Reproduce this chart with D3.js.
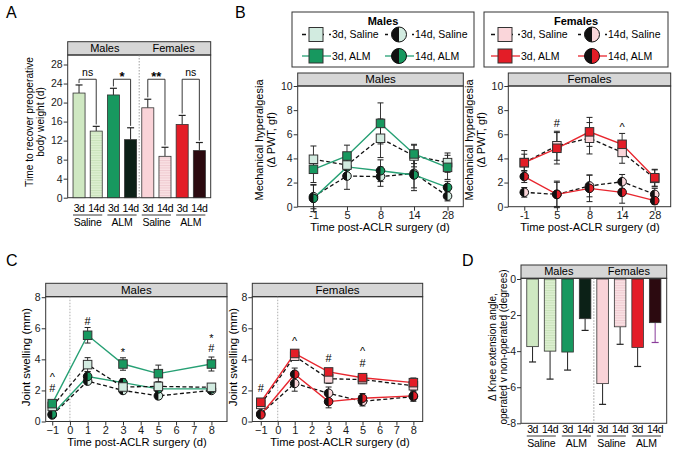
<!DOCTYPE html>
<html><head><meta charset="utf-8">
<script src="https://cdn.jsdelivr.net/npm/d3@7"></script>
<style>body{margin:0;background:#fff}svg{font-family:"Liberation Sans",Arial,sans-serif}</style>
</head><body><svg id="c" width="676" height="458"></svg>
<script>
// ---------- DATA ----------
const barDays = ["3d","14d","3d","14d","3d","14d","3d","14d"];
const barTreatments = ["Saline","ALM","Saline","ALM"];
const sexes = ["Males","Females"];
const recoveryDays = [22.0,14.0,21.6,12.2,18.9,8.7,15.4,9.9];
const recoveryErr = [1.7,1.0,1.4,2.5,1.8,1.9,1.9,1.7];
const recoverySig = ["ns","*","**","ns"];
const recoveryTicks = [0,4,8,12,16,20,24,28];

const seriesNames = ["3d, Saline","14d, Saline","3d, ALM","14d, ALM"];
const pwtDays = ["-1","5","8","14","28"];
const pwtTicks = [0,2,4,6,8,10];
const pwtMale3dSal = [3.93,3.45,5.67,4.2,3.65];
const pwtMale3dSalErr = [1.1,1.0,1.6,0.9,0.8];
const pwtMale3dAlm = [3.1,4.2,6.9,4.37,3.26];
const pwtMale3dAlmErr = [1.1,0.9,1.7,0.8,1.0];
const pwtMale14dSal = [0.83,2.54,2.49,2.76,0.88];
const pwtMale14dSalErr = [1.0,1.1,0.8,1.2,0.4];
const pwtMale14dAlm = [0.69,3.3,2.98,2.63,1.6];
const pwtMale14dAlmErr = [1.1,1.0,0.9,1.3,0.5];
const pwtFem3dSal = [3.65,5.05,5.67,4.5,2.35];
const pwtFem3dSalErr = [1.0,1.2,1.3,0.9,0.7];
const pwtFem3dAlm = [3.65,4.84,6.2,5.17,2.4];
const pwtFem3dAlmErr = [0.7,1.3,1.2,0.9,0.7];
const pwtFem14dSal = [1.19,1.02,1.72,2.07,1.02];
const pwtFem14dSalErr = [0.4,1.0,0.9,0.6,0.5];
const pwtFem14dAlm = [2.5,1.02,1.52,1.19,0.5];
const pwtFem14dAlmErr = [0.5,1.1,1.1,0.9,0.3];
const pwtFemMarks = [{day:"5",text:"#",v:6.9},{day:"14",text:"^",v:6.6}];

const swellDays = [-1,1,3,5,8];
const swellXTicks = [-1,0,1,2,3,4,5,6,7,8];
const swellYTicks = [0,2,4,6,8];
const swMale3dSal = [0.97,3.66,2.22,2.26,2.2];
const swMale3dSalErr = [0.2,0.45,0.3,0.3,0.2];
const swMale3dAlm = [1.15,5.55,3.7,3.08,3.7];
const swMale3dAlmErr = [0.2,0.5,0.4,0.55,0.45];
const swMale14dSal = [0.42,2.6,2.0,1.65,2.0];
const swMale14dSalErr = [0.1,0.2,0.2,0.2,0.1];
const swMale14dAlm = [0.47,2.9,2.5,2.1,2.1];
const swMale14dAlmErr = [0.1,0.3,0.25,0.2,0.15];
const swFem3dSal = [1.1,4.2,2.75,2.7,2.3];
const swFem3dSalErr = [0.2,0.2,0.3,0.25,0.3];
const swFem3dAlm = [1.24,4.38,3.19,2.82,2.5];
const swFem3dAlmErr = [0.2,0.2,0.2,0.2,0.3];
const swFem14dSal = [0.5,2.45,1.82,1.3,1.6];
const swFem14dSalErr = [0.15,0.5,0.4,0.3,0.3];
const swFem14dAlm = [0.43,3.04,1.28,1.5,1.65];
const swFem14dAlmErr = [0.15,0.4,0.4,0.3,0.25];
const swMaleMarks = [{d:-1,t:"^",v:2.85},{d:-1,t:"#",v:2.15},{d:1,t:"#",v:6.5},{d:3,t:"*",v:4.5},{d:8,t:"*",v:5.4},{d:8,t:"#",v:4.7}];
const swFemMarks = [{d:-1,t:"#",v:2.15},{d:1,t:"^",v:5.15},{d:3,t:"#",v:4.1},{d:5,t:"^",v:4.55},{d:5,t:"#",v:3.75}];

const kneeAngle = [-3.75,-4.0,-4.05,-2.2,-5.8,-2.65,-3.8,-2.42];
const kneeErr = [0.85,1.55,1.0,0.65,1.15,0.97,1.05,1.1];
const kneeTicks = [0,-2,-4,-6,-8];

// ---------- STYLE ----------
const C = {
  mLight:"#cfe8c2", mAlm:"#17985f", mDark:"#0c2117",
  fLight:"#fad3d8", fAlm:"#e31d27", fDark:"#2c0a10",
  mMark:"#d2ebe0", fMark:"#fad6da", mLine:"#26a074", fLine:"#e8262e"
};
const barFill = ["mLight","url(#hatchM)","mAlm","mDark","fLight","url(#hatchF)","fAlm","fDark"].map(k=>C[k]||k);
const FONT = 10.5;
const svg = d3.select("#c");
const defs = svg.append("defs");
function hatch(id, bg, line){
  const p = defs.append("pattern").attr("id",id).attr("patternUnits","userSpaceOnUse").attr("width",4).attr("height",2.5);
  p.append("rect").attr("width",4).attr("height",2.5).attr("fill",bg);
  p.append("line").attr("x1",0).attr("x2",4).attr("y1",0.5).attr("y2",0.5).attr("stroke",line).attr("stroke-width",0.6);
}
hatch("hatchM", "#dcefd0", "#b9d9a8");
hatch("hatchF", "#f9e0e3", "#e7bcc2");

function letter(t,x,y){ svg.append("text").attr("x",x).attr("y",y).attr("font-size",16).text(t); }

function frame(x0,x1,yTop,yHdr,yBot,title){
  svg.append("rect").attr("x",x0).attr("y",yTop).attr("width",x1-x0).attr("height",yHdr-yTop).attr("fill","#d6d6d6").attr("stroke","#333").attr("stroke-width",1);
  svg.append("rect").attr("x",x0).attr("y",yHdr).attr("width",x1-x0).attr("height",yBot-yHdr).attr("fill","none").attr("stroke","#333").attr("stroke-width",1);
  if(Array.isArray(title)){
    title.forEach(t=>svg.append("text").attr("x",t.x).attr("y",yHdr-3).attr("text-anchor","middle").attr("font-size",11).text(t.t));
  } else {
    svg.append("text").attr("x",(x0+x1)/2).attr("y",yHdr-3).attr("text-anchor","middle").attr("font-size",11.5).text(title);
  }
}
function yAxis(x0,y,ticks,fmt){
  const g = svg.append("g").attr("transform",`translate(${x0},0)`).call(d3.axisLeft(y).tickValues(ticks).tickSize(4).tickPadding(1).tickFormat(fmt||(d=>d)));
  g.select(".domain").remove();
  g.selectAll("text").attr("font-size",FONT).attr("fill","#1a1a1a").attr("font-family",null);
  g.selectAll("line").attr("stroke","#333");
  return g;
}
function xAxis(yB,x,ticks){
  const a = d3.axisBottom(x).tickSize(4).tickPadding(1);
  if(ticks) a.tickValues(ticks);
  const g = svg.append("g").attr("transform",`translate(0,${yB})`).call(a);
  g.select(".domain").remove();
  g.selectAll("text").attr("font-size",FONT+0.5).attr("fill","#1a1a1a").attr("font-family",null);
  g.selectAll("line").attr("stroke","#333");
  return g;
}
function yLabel(lines,x,y,size){
  const t = svg.append("text").attr("transform",`translate(${x},${y}) rotate(-90)`).attr("text-anchor","middle").attr("font-size",size||10.5);
  lines.forEach((l,i)=>t.append("tspan").attr("x",0).attr("dy",i?"1.1em":0).text(l));
}
function halfCircle(g,cx,cy,r,fill){
  g.append("circle").attr("cx",cx).attr("cy",cy).attr("r",r).attr("fill",fill).attr("stroke","#111").attr("stroke-width",1);
  g.append("path").attr("d",`M${cx},${cy-r}A${r},${r} 0 0 0 ${cx},${cy+r}Z`).attr("fill","#111");
}
function square(g,cx,cy,s,fill){
  g.append("rect").attr("x",cx-s/2).attr("y",cy-s/2).attr("width",s).attr("height",s).attr("fill",fill).attr("stroke","#333").attr("stroke-width",1);
}

// ---------- PANEL A / D bar helper ----------
function barPanel(opts){
  const {x0,x1,yTop,yHdr,yBot,y,vals,errs,down,ticks,labelY} = opts;
  const x = d3.scaleBand().domain(d3.range(vals.length)).range([x0,x1]).paddingInner(opts.pi).paddingOuter(opts.po);
  frame(x0,x1,yTop,yHdr,yBot,[{t:sexes[0],x:(x(0)+x(3)+x.bandwidth())/2},{t:sexes[1],x:(x(4)+x(7)+x.bandwidth())/2}]);
  const dx = (x(3)+x.bandwidth()+x(4))/2;
  svg.append("line").attr("x1",dx).attr("x2",dx).attr("y1",yHdr).attr("y2",yBot).attr("stroke","#888").attr("stroke-width",0.8).attr("stroke-dasharray","1.5,1.5");
  const g = svg.append("g");
  vals.forEach((v,i)=>{
    const cx = x(i)+x.bandwidth()/2;
    const eEnd = down ? v-errs[i] : v+errs[i];
    const col = (i===7 && down) ? "#8a3c9a" : "#222";
    g.append("line").attr("x1",cx).attr("x2",cx).attr("y1",y(v)).attr("y2",y(eEnd)).attr("stroke",col).attr("stroke-width",1);
    g.append("line").attr("x1",cx-3.5).attr("x2",cx+3.5).attr("y1",y(eEnd)).attr("y2",y(eEnd)).attr("stroke",col).attr("stroke-width",1.2);
    g.append("rect").attr("x",x(i)).attr("width",x.bandwidth())
      .attr("y",Math.min(y(v),y(0))).attr("height",Math.abs(y(v)-y(0)))
      .attr("fill",barFill[i]).attr("stroke","#333").attr("stroke-width",0.8);
  });
  yAxis(x0,y,ticks);
  vals.forEach((v,i)=>{
    svg.append("text").attr("x",x(i)+x.bandwidth()/2).attr("y",labelY).attr("text-anchor","middle").attr("font-size",10.5).attr("letter-spacing",-0.45).text(barDays[i]);
  });
  barTreatments.forEach((t,j)=>{
    const a = x(2*j), b = x(2*j+1)+x.bandwidth();
    svg.append("line").attr("x1",a).attr("x2",b).attr("y1",labelY+3).attr("y2",labelY+3).attr("stroke","#222").attr("stroke-width",0.9);
    svg.append("text").attr("x",(a+b)/2).attr("y",labelY+13.5).attr("text-anchor","middle").attr("font-size",10.5).attr("letter-spacing",-0.2).text(t);
  });
  return x;
}

// Panel A
letter("A",6,18);
const yA = d3.scaleLinear().domain([0,30]).range([197.7,55]);
const xA = barPanel({x0:67.7,x1:210.7,yTop:41.7,yHdr:55,yBot:197.7,y:yA,vals:recoveryDays,errs:recoveryErr,down:false,ticks:recoveryTicks,pi:0.3,po:0.31,labelY:212});
recoverySig.forEach((s,j)=>{
  const i1=2*j,i2=2*j+1;
  const c1 = xA(i1)+xA.bandwidth()/2, c2 = xA(i2)+xA.bandwidth()/2;
  const top = yA(24.9);
  const l1 = yA(recoveryDays[i1]+recoveryErr[i1]+0.4), l2 = yA(recoveryDays[i2]+recoveryErr[i2]+0.4);
  svg.append("path").attr("d",`M${c1},${l1}V${top}H${c2}V${l2}`).attr("fill","none").attr("stroke","#222").attr("stroke-width",0.9);
  svg.append("text").attr("x",(c1+c2)/2).attr("y",s==="ns"?top-3.5:top+1.5).attr("text-anchor","middle").attr("font-size",s==="ns"?10.5:13).attr("font-weight",s==="ns"?null:"bold").text(s);
});
yLabel(["Time to recover preoperative","body weight  (d)"],33,122,10.2);

// Panel D
letter("D",462,266);
const yD = d3.scaleLinear().domain([-8,0]).range([423.3,279]);
barPanel({x0:521,x1:666.7,yTop:265,yHdr:278.3,yBot:423.3,y:yD,vals:kneeAngle,errs:kneeErr,down:true,ticks:kneeTicks,pi:0.34,po:0.33,labelY:433});
yLabel(["Δ Knee extension angle,","operated v non-operated (degrees)"],496,347,10);

// ---------- line panel helper ----------
function linePanel(opts){
  const {x,y,days,series,marks,markKey} = opts;
  const g = svg.append("g");
  series.forEach(s=>{
    const line = d3.line().x((d,i)=>x(days[i])).y(d=>y(d));
    g.append("path").attr("d",line(s.v)).attr("fill","none").attr("stroke",s.dash?"#111":s.line).attr("stroke-width",s.dash?1.3:1.4).attr("stroke-dasharray",s.dash?"4,2.5":null);
  });
  series.forEach(s=>{
    s.v.forEach((v,i)=>{
      const cx = x(days[i]);
      g.append("line").attr("x1",cx).attr("x2",cx).attr("y1",y(v-s.e[i])).attr("y2",y(v+s.e[i])).attr("stroke","#222").attr("stroke-width",0.9);
      [v-s.e[i],v+s.e[i]].forEach(e=>g.append("line").attr("x1",cx-3).attr("x2",cx+3).attr("y1",y(e)).attr("y2",y(e)).attr("stroke","#222").attr("stroke-width",1));
    });
  });
  series.forEach(s=>{
    s.v.forEach((v,i)=>{
      const cx = x(days[i]), cy=y(v);
      if(s.shape==="sq") square(g,cx,cy,8.5,s.fill); else halfCircle(g,cx,cy,4.3,s.fill);
    });
  });
  (marks||[]).forEach(m=>{
    svg.append("text").attr("x",x(m[markKey.d])).attr("y",y(m[markKey.v])+4).attr("text-anchor","middle").attr("font-size",11).text(m[markKey.t]);
  });
}
function seriesSet(sal3,sal3e,alm3,alm3e,sal14,sal14e,alm14,alm14e,light,alm,lineC){
  return [
    {v:sal14,e:sal14e,dash:true,shape:"c",fill:light},
    {v:alm14,e:alm14e,dash:false,line:lineC,shape:"c",fill:alm},
    {v:sal3,e:sal3e,dash:true,shape:"sq",fill:light},
    {v:alm3,e:alm3e,dash:false,line:lineC,shape:"sq",fill:alm}
  ];
}

// ---------- PANEL B ----------
letter("B",235,18);
function legend(x0,x1,title,light,alm,lineC,sqX,cX){
  svg.append("rect").attr("x",x0).attr("y",12).attr("width",x1-x0).attr("height",55).attr("fill","#fff").attr("stroke","#333").attr("stroke-width",1);
  svg.append("text").attr("x",(x0+x1)/2).attr("y",25).attr("text-anchor","middle").attr("font-size",11).attr("font-weight","bold").text(title);
  const g = svg.append("g");
  const rows=[{y:34.5,dash:true,fill:light},{y:56,dash:false,fill:alm}];
  rows.forEach((r,ri)=>{
    g.append("line").attr("x1",sqX-14).attr("x2",sqX+15).attr("y1",r.y).attr("y2",r.y).attr("stroke",r.dash?"#111":lineC).attr("stroke-width",1.3).attr("stroke-dasharray",r.dash?"4,5":null);
    square(g,sqX,r.y,14,r.fill);
    g.append("text").attr("x",sqX+16).attr("y",r.y+3.8).attr("font-size",10.5).text(seriesNames[ri===0?0:2]);
    g.append("line").attr("x1",cX-14).attr("x2",cX+15).attr("y1",r.y).attr("y2",r.y).attr("stroke",r.dash?"#111":lineC).attr("stroke-width",1.3).attr("stroke-dasharray",r.dash?"3,6":null);
    halfCircle(g,cX,r.y,7.5,r.fill);
    g.append("text").attr("x",cX+16).attr("y",r.y+3.8).attr("font-size",10.5).text(seriesNames[ri===0?1:3]);
  });
}
legend(292,474,"Males",C.mMark,C.mAlm,C.mLine,316,399);
legend(484,668,"Females",C.fMark,C.fAlm,C.fLine,505,592);

const yB = d3.scaleLinear().domain([0,10]).range([206.7,86]);
const xBm = d3.scalePoint().domain(pwtDays).range([297.7,463.3]).padding(0.47);
frame(297.7,463.3,73,86,206.7,sexes[0]);
linePanel({x:xBm,y:yB,days:pwtDays,series:seriesSet(pwtMale3dSal,pwtMale3dSalErr,pwtMale3dAlm,pwtMale3dAlmErr,pwtMale14dSal,pwtMale14dSalErr,pwtMale14dAlm,pwtMale14dAlmErr,C.mMark,C.mAlm,C.mLine)});
yAxis(297.7,yB,pwtTicks);
xAxis(206.7,xBm);
yLabel(["Mechanical hyperalgesia","(Δ PWT, gf)"],263,140,11);
svg.append("text").attr("x",380).attr("y",231).attr("text-anchor","middle").attr("font-size",11.2).text("Time post-ACLR surgery (d)");

const xBf = d3.scalePoint().domain(pwtDays).range([508.3,670.7]).padding(0.49);
frame(508.3,670.7,73,86,206.7,sexes[1]);
linePanel({x:xBf,y:yB,days:pwtDays,series:seriesSet(pwtFem3dSal,pwtFem3dSalErr,pwtFem3dAlm,pwtFem3dAlmErr,pwtFem14dSal,pwtFem14dSalErr,pwtFem14dAlm,pwtFem14dAlmErr,C.fMark,C.fAlm,C.fLine),marks:pwtFemMarks,markKey:{d:"day",v:"v",t:"text"}});
yAxis(508.3,yB,pwtTicks);
xAxis(206.7,xBf);
yLabel(["Mechanical hyperalgesia","(Δ PWT, gf)"],473,140,11);
svg.append("text").attr("x",590).attr("y",231).attr("text-anchor","middle").attr("font-size",11.2).text("Time post-ACLR surgery (d)");

// ---------- PANEL C ----------
letter("C",6,266);
const yC = d3.scaleLinear().domain([0,8]).range([421.5,297.2]);
const xCm = d3.scaleLinear().domain([-1.37,8.88]).range([45.7,227]);
frame(45.7,227,283.3,296.7,421.5,sexes[0]);
svg.append("line").attr("x1",xCm(0)).attr("x2",xCm(0)).attr("y1",296.7).attr("y2",421.5).attr("stroke","#999").attr("stroke-width",0.8).attr("stroke-dasharray","1.5,1.5");
linePanel({x:xCm,y:yC,days:swellDays,series:seriesSet(swMale3dSal,swMale3dSalErr,swMale3dAlm,swMale3dAlmErr,swMale14dSal,swMale14dSalErr,swMale14dAlm,swMale14dAlmErr,C.mMark,C.mAlm,C.mLine),marks:swMaleMarks,markKey:{d:"d",v:"v",t:"t"}});
yAxis(45.7,yC,swellYTicks);
xAxis(421.5,xCm,swellXTicks);
yLabel(["Joint swelling (mm)"],30,357,11.5);
svg.append("text").attr("x",137).attr("y",446).attr("text-anchor","middle").attr("font-size",11.2).text("Time post-ACLR surgery (d)");

const xCf = d3.scaleLinear().domain([-1.5,8.55]).range([252.3,422.7]);
frame(252.3,422.7,283.3,296.7,421.5,sexes[1]);
svg.append("line").attr("x1",xCf(0)).attr("x2",xCf(0)).attr("y1",296.7).attr("y2",421.5).attr("stroke","#999").attr("stroke-width",0.8).attr("stroke-dasharray","1.5,1.5");
linePanel({x:xCf,y:yC,days:swellDays,series:seriesSet(swFem3dSal,swFem3dSalErr,swFem3dAlm,swFem3dAlmErr,swFem14dSal,swFem14dSalErr,swFem14dAlm,swFem14dAlmErr,C.fMark,C.fAlm,C.fLine),marks:swFemMarks,markKey:{d:"d",v:"v",t:"t"}});
yAxis(252.3,yC,swellYTicks);
xAxis(421.5,xCf,swellXTicks);
yLabel(["Joint swelling (mm)"],237,357,11.5);
svg.append("text").attr("x",340).attr("y",446).attr("text-anchor","middle").attr("font-size",11.2).text("Time post-ACLR surgery (d)");
</script></body></html>
